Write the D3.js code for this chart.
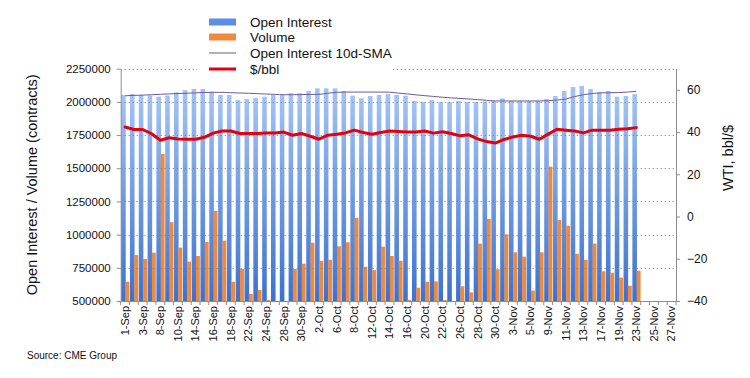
<!DOCTYPE html>
<html>
<head>
<meta charset="utf-8">
<script src="https://cdn.jsdelivr.net/npm/d3@7"></script>
<style>
  body { margin: 0; background: #fff; }
  svg { font-family: "Liberation Sans", Arial, sans-serif; }
</style>
</head>
<body>
<div id="chart"></div>
<script>
const dates = [
  "1-Sep","2-Sep","3-Sep","4-Sep","8-Sep","9-Sep","10-Sep","11-Sep","14-Sep","15-Sep",
  "16-Sep","17-Sep","18-Sep","21-Sep","22-Sep","23-Sep","24-Sep","25-Sep","28-Sep","29-Sep",
  "30-Sep","1-Oct","2-Oct","5-Oct","6-Oct","7-Oct","8-Oct","9-Oct","12-Oct","13-Oct",
  "14-Oct","15-Oct","16-Oct","19-Oct","20-Oct","21-Oct","22-Oct","23-Oct","26-Oct","27-Oct",
  "28-Oct","29-Oct","30-Oct","2-Nov","3-Nov","4-Nov","5-Nov","6-Nov","9-Nov","10-Nov",
  "11-Nov","12-Nov","13-Nov","16-Nov","17-Nov","18-Nov","19-Nov","20-Nov","23-Nov","24-Nov",
  "25-Nov","26-Nov","27-Nov"
];

// thousands of contracts, 1-Sep .. 23-Nov
const openInterest = [
  2052,2059,2052,2048,2039,2048,2072,2089,2097,2097,
  2077,2052,2052,2014,2022,2029,2039,2052,2052,2065,
  2065,2082,2102,2102,2102,2082,2047,2027,2044,2052,
  2059,2052,2047,2007,1999,2014,1999,1999,2007,1999,
  1999,2003,2007,2027,2007,2007,2007,2009,2022,2044,
  2082,2112,2120,2097,2074,2082,2039,2044,2059
];
const volume = [
  645,846,816,864,1607,1093,902,796,839,944,
  1178,955,645,741,553,583,508,470,460,741,
  781,939,803,811,912,942,1127,758,733,909,
  839,803,508,600,645,648,508,470,611,565,
  932,1118,739,1002,867,834,578,867,1512,1110,
  1067,856,811,932,724,713,676,615,728
];
const oiSma = [
  2046,2049,2051,2054,2057,2060,2063,2065,2068,2071,
  2072,2072,2069,2067,2065,2062,2059,2057,2054,2054,
  2055,2056,2057,2065,2072,2074,2074,2074,2074,2074,
  2073,2066,2060,2053,2047,2041,2035,2030,2026,2022,
  2017,2012,2007,2007,2007,2007,2007,2007,2009,2014,
  2022,2040,2054,2063,2068,2069,2070,2074,2080
];
const wti = [
  42.4,41.2,41.2,39.2,36.1,37.3,36.7,36.6,36.6,37.5,
  39.5,40.5,40.5,39.3,39.3,39.3,39.6,39.6,40.0,38.5,
  39.3,38.0,36.6,38.5,39.0,39.6,40.9,39.8,39.0,39.8,
  40.5,40.3,40.0,40.0,40.5,39.5,40.1,39.3,38.2,38.7,
  36.8,35.5,34.8,36.5,37.7,38.5,38.0,36.6,39.0,41.3,
  40.9,40.5,39.6,40.9,40.9,40.9,41.3,41.6,42.1
];

const leftTicks = [500000,750000,1000000,1250000,1500000,1750000,2000000,2250000];
const rightTicks = [-40,-20,0,20,40,60];

const width = 750, height = 378;
const margin = {top: 68.7, right: 74, bottom: 77, left: 120.7};

const svg = d3.select("#chart").append("svg")
  .attr("width", width)
  .attr("height", height);

const defs = svg.append("defs");
const grad = defs.append("linearGradient")
  .attr("id", "oiGrad")
  .attr("x1", 0).attr("y1", 0).attr("x2", 0).attr("y2", 1);
grad.append("stop").attr("offset", "0%").attr("stop-color", "#a3c3f6");
grad.append("stop").attr("offset", "100%").attr("stop-color", "#3b71d0");

svg.append("clipPath")
    .attr("id", "clip")
  .append("rect")
    .attr("x", margin.left)
    .attr("y", margin.top)
    .attr("width", width - margin.left - margin.right)
    .attr("height", height - margin.top - margin.bottom);

const x = d3.scaleBand()
  .domain(dates)
  .range([margin.left, width - margin.right])
  .padding(0);
const bw = x.bandwidth();

const yL = d3.scaleLinear()
  .domain([500000, 2250000])
  .range([height - margin.bottom, margin.top]);
const yR = d3.scaleLinear()
  .domain([-40, 70])
  .range([height - margin.bottom, margin.top]);

const rows = dates.slice(0, openInterest.length).map((d, i) => ({
  date: d,
  oi: openInterest[i] * 1000,
  vol: volume[i] * 1000,
  sma: oiSma[i] * 1000,
  px: wti[i]
}));

// bars
const gBars = svg.append("g").attr("clip-path", "url(#clip)");
gBars.selectAll(".oi")
  .data(rows)
  .join("rect")
    .attr("class", "oi")
    .attr("x", d => x(d.date) + bw * 0.05)
    .attr("width", bw * 0.52)
    .attr("y", d => yL(d.oi))
    .attr("height", d => yL(500000) - yL(d.oi))
    .attr("fill", "url(#oiGrad)");
gBars.selectAll(".vol")
  .data(rows.filter(d => d.vol > 500000))
  .join("rect")
    .attr("class", "vol")
    .attr("x", d => x(d.date) + bw * 0.54)
    .attr("width", bw * 0.44)
    .attr("y", d => yL(d.vol))
    .attr("height", d => yL(500000) - yL(d.vol))
    .attr("fill", "#ef8a3d");

// dotted grid
svg.append("g")
    .attr("stroke", "#7a7a7a")
    .attr("stroke-width", 1)
    .attr("stroke-dasharray", "1,3")
  .selectAll("line")
  .data(leftTicks.slice(1))
  .join("line")
    .attr("x1", margin.left)
    .attr("x2", width - margin.right)
    .attr("y1", d => Math.round(yL(d)) + 0.5)
    .attr("y2", d => Math.round(yL(d)) + 0.5);

// lines
const cx = d => x(d.date) + bw / 2;
svg.append("path")
  .datum(rows)
  .attr("fill", "none")
  .attr("stroke", "#6c5a98")
  .attr("stroke-width", 1)
  .attr("d", d3.line().curve(d3.curveMonotoneX).x(cx).y(d => yL(d.sma)));

svg.append("path")
  .datum(rows)
  .attr("fill", "none")
  .attr("stroke", "#e3000f")
  .attr("stroke-width", 3)
  .attr("stroke-linejoin", "round")
  .attr("stroke-linecap", "round")
  .attr("d", d3.line().x(cx).y(d => yR(d.px)));

// axes
const axisColor = "#8c8c8c";
const styleAxis = g => {
  g.select(".domain").attr("stroke", axisColor);
  g.selectAll(".tick line").attr("stroke", axisColor);
  g.selectAll(".tick text").attr("fill", "#111").attr("font-size", 11);
};

svg.append("g")
  .attr("transform", `translate(${margin.left},0)`)
  .call(d3.axisLeft(yL).tickValues(leftTicks).tickFormat(d3.format("d")).tickSize(4).tickSizeOuter(0).tickPadding(6))
  .call(styleAxis)
  .call(g => g.selectAll(".tick text").attr("font-size", 11.5));

svg.append("g")
  .attr("transform", `translate(${width - margin.right},0)`)
  .call(d3.axisRight(yR).tickValues(rightTicks).tickSize(4).tickSizeOuter(0).tickPadding(7))
  .call(styleAxis)
  .call(g => g.selectAll(".tick text").attr("font-size", 12));

const gx = svg.append("g")
  .attr("transform", `translate(0,${height - margin.bottom})`)
  .call(d3.axisBottom(x).tickValues(dates.filter((d, i) => i % 2 === 0)).tickSize(0).tickSizeOuter(0))
  .call(styleAxis);
gx.selectAll(".tick text")
  .attr("transform", "rotate(-90)")
  .attr("x", -5)
  .attr("y", 0)
  .attr("dy", "0.35em")
  .attr("text-anchor", "end");
gx.append("g")
    .attr("stroke", axisColor)
  .selectAll("line")
  .data(dates.map(d => x(d)).concat([width - margin.right]))
  .join("line")
    .attr("x1", d => d)
    .attr("x2", d => d)
    .attr("y1", 0)
    .attr("y2", 4);

// axis titles
svg.append("text")
  .attr("transform", `translate(37,${(margin.top + height - margin.bottom) / 2}) rotate(-90)`)
  .attr("text-anchor", "middle")
  .attr("font-size", 14.5)
  .attr("fill", "#111")
  .text("Open Interest / Volume (contracts)");

svg.append("text")
  .attr("transform", `translate(733,158) rotate(-90)`)
  .attr("text-anchor", "middle")
  .attr("font-size", 14.5)
  .attr("fill", "#111")
  .text("WTI, bbl/$");

// legend
const legend = svg.append("g");
legend.append("rect")
  .attr("x", 197).attr("y", 10)
  .attr("width", 196).attr("height", 66)
  .attr("fill", "#fff");
const items = [
  {name: "Open Interest", type: "rect", color: "#5b8fe3", y: 22},
  {name: "Volume", type: "rect", color: "#ef8a3d", y: 37},
  {name: "Open Interest 10d-SMA", type: "line", color: "#6c5a98", w: 1, y: 53},
  {name: "$/bbl", type: "line", color: "#e3000f", w: 3, y: 69}
];
items.forEach(it => {
  if (it.type === "rect") {
    legend.append("rect")
      .attr("x", 209).attr("y", it.y - 3.5)
      .attr("width", 27).attr("height", 7)
      .attr("fill", it.color);
  } else {
    legend.append("line")
      .attr("x1", 209).attr("x2", 236)
      .attr("y1", it.y).attr("y2", it.y)
      .attr("stroke", it.color)
      .attr("stroke-width", it.w);
  }
  legend.append("text")
    .attr("x", 250).attr("y", it.y)
    .attr("dy", "0.35em")
    .attr("font-size", 13.5)
    .attr("fill", "#111")
    .text(it.name);
});

svg.append("text")
  .attr("x", 27).attr("y", 359)
  .attr("font-size", 10)
  .attr("fill", "#111")
  .text("Source: CME Group");
</script>
</body>
</html>
